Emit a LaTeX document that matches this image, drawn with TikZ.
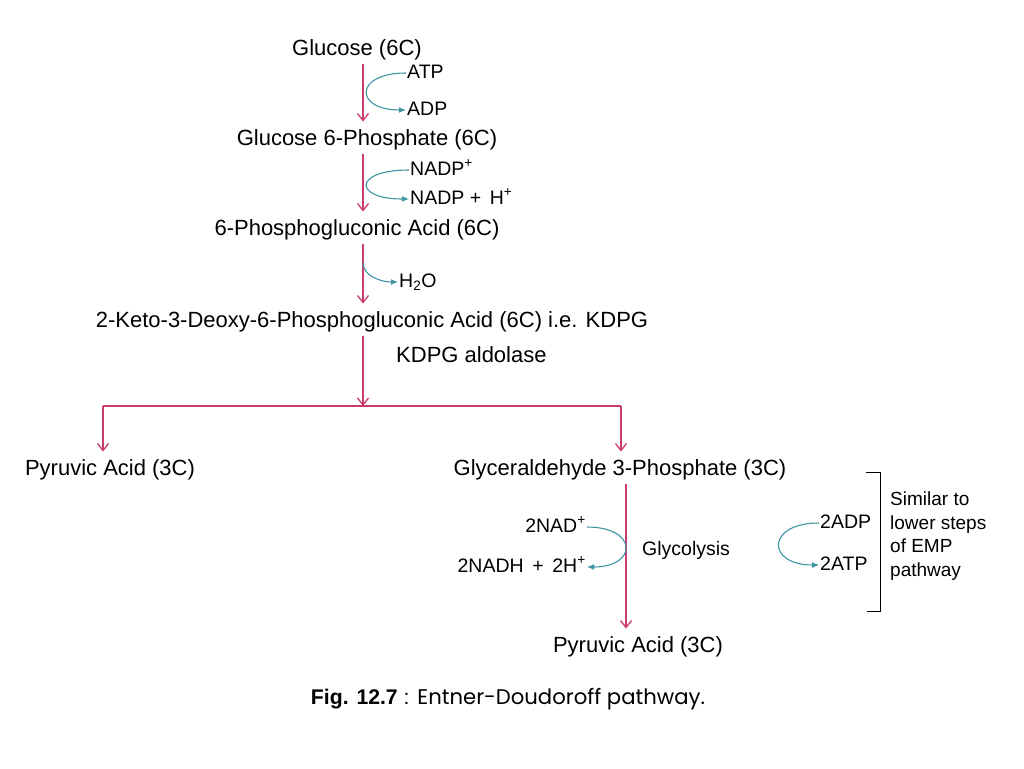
\documentclass[tikz,border=0pt]{standalone}
\usepackage{fontspec}
\setmainfont{Liberation Sans}
\newfontfamily\capfont{Poppins}
\usetikzlibrary{arrows.meta}
\definecolor{rose-pink}{HTML}{CC3B6E}
\definecolor{teal-blue}{HTML}{3E95A3}

\begin{document}
\begin{tikzpicture}[x=1pt, y=-1pt,
    compound/.style={font=\fontsize{22}{26}\selectfont, inner sep=2pt, text height=16pt, text depth=4.5pt},
    cofactor/.style={font=\fontsize{19.5}{23}\selectfont, inner sep=1pt, text height=14pt, text depth=4pt},
    pathway/.style={rose-pink, line width=1.3pt, shorten <=2pt, shorten >=6pt, -{Straight Barb[length=7pt, width=11pt]}},
    side/.style={teal-blue, line width=1.1pt, -{Latex[length=7pt, width=6pt]}}]
  \useasboundingbox (0,0) rectangle (1024,768);
  \coordinate (axis) at (363,0);
  \coordinate (glyc-axis) at (626,0);

  % compounds
  \node[compound] (glc) at (357,50) {Glucose (6C)};
  \node[compound] (g6p) at (367,140) {Glucose 6-Phosphate (6C)};
  \node[compound] (pga) at (357,230) {6-Phosphogluconic Acid (6C)};
  \node[compound] (kdpg) at (372,322) {2-Keto-3-Deoxy-6-Phosphogluconic Acid (6C) i.e. KDPG};
  \node[compound, anchor=west] (aldolase) at (394,357) {KDPG aldolase};
  \node[compound] (pyr1) at (110,470) {Pyruvic Acid (3C)};
  \node[compound] (gap) at (620,470) {Glyceraldehyde 3-Phosphate (3C)};
  \node[compound] (pyr2) at (638,647) {Pyruvic Acid (3C)};

  % cofactors
  \node[cofactor, anchor=west] (atp) at (406,73) {ATP};
  \node[cofactor, anchor=west] (adp) at (406,110) {ADP};
  \node[cofactor, anchor=west] (nadp) at (409,170) {NADP\textsuperscript{+}};
  \node[cofactor, anchor=west] (nadph) at (409,199) {NADP + \,H\textsuperscript{+}};
  \node[cofactor, anchor=west] (h2o) at (398,282) {H\textsubscript{2}O};
  \node[cofactor, anchor=east] (nad) at (587,527) {2NAD\textsuperscript{+}};
  \node[cofactor, anchor=east] (nadh) at (587,567) {2NADH \,+\, 2H\textsuperscript{+}};
  \node[cofactor, anchor=west] (glycolysis) at (641,550) {Glycolysis};
  \node[cofactor, anchor=west] (adp2) at (819,523) {2ADP};
  \node[cofactor, anchor=west] (atp2) at (819,565) {2ATP};
  \node[anchor=west, align=left, font=\fontsize{19}{23.5}\selectfont, inner sep=0pt] (emp) at (890,536) {Similar to\\lower steps\\of EMP\\pathway};

  % main pathway
  \draw[pathway] (glc.south -| axis) -- (g6p.north -| axis);
  \draw[pathway] (g6p.south -| axis) -- (pga.north -| axis);
  \draw[pathway] (pga.south -| axis) -- coordinate[pos=0.3] (dehyd) (kdpg.north -| axis);

  \coordinate (split) at (363,406);
  \coordinate (split-l) at (103,406);
  \coordinate (split-r) at (621,406);
  \draw[pathway, shorten >=0pt] (kdpg.south -| axis) -- (split);
  \draw[rose-pink, line width=1.3pt] (split-l) -- (split-r);
  \draw[pathway, shorten <=0pt] (split-l) -- (split-l |- pyr1.north);
  \draw[pathway, shorten <=0pt] (split-r) -- (split-r |- gap.north);
  \draw[pathway] (gap.south -| glyc-axis) -- (pyr2.north -| glyc-axis);

  % side reactions
  \draw[side] (atp.west) .. controls +(-52,0) and +(-52,0) .. (adp.west);
  \draw[side] (nadp.west) .. controls +(-56,0) and +(-56,0) .. (nadph.west);
  \draw[side] (dehyd) .. controls +(0,14) and +(-16,0) .. (h2o.west);
  \draw[side] (nad.east) .. controls +(51,0) and +(51,0) .. (nadh.east);
  \draw[side] (adp2.west) .. controls +(-53,0) and +(-53,0) .. (atp2.west);

  % bracket
  \draw[line width=1pt] (866,472) -- (880,472) -- (880,611) -- (867,611);

  \node[font=\fontsize{21.2}{25}\selectfont] (caption) at (508,699) {\textbf{Fig. 12.7} : {\capfont Entner-Doudoroff pathway.}};
\end{tikzpicture}
\end{document}
